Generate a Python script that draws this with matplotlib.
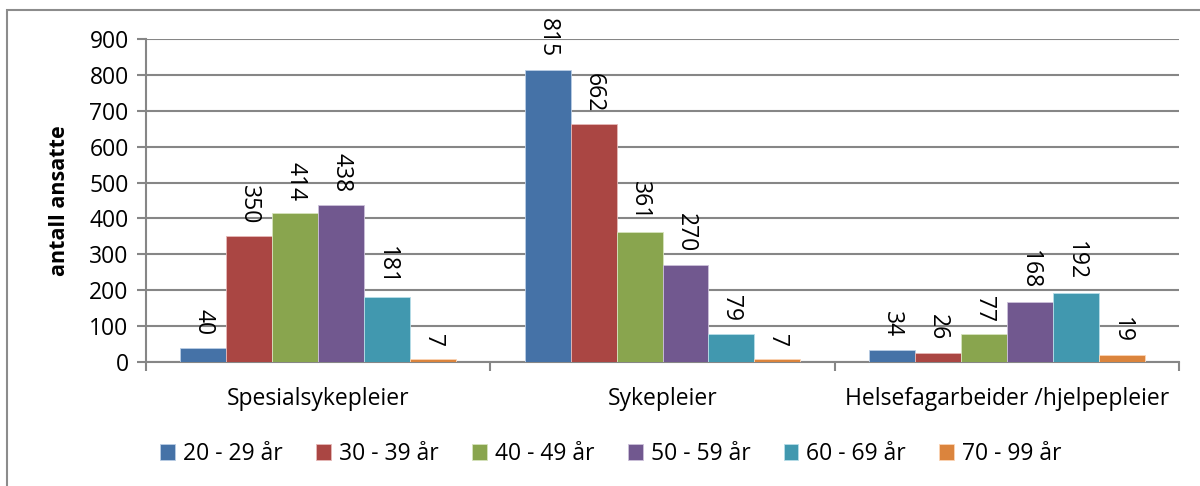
import numpy as np
import matplotlib.pyplot as plt
from matplotlib.patches import Rectangle

plt.rcParams['font.family'] = ['Open Sans', 'DejaVu Sans']

categories = ["Spesialsykepleier", "Sykepleier", "Helsefagarbeider /hjelpepleier"]
age_groups = ["20 - 29 år", "30 - 39 år", "40 - 49 år", "50 - 59 år", "60 - 69 år", "70 - 99 år"]
counts_20_29 = [40, 815, 34]
counts_30_39 = [350, 662, 26]
counts_40_49 = [414, 361, 77]
counts_50_59 = [438, 270, 168]
counts_60_69 = [181, 79, 192]
counts_70_99 = [7, 7, 19]
series = [counts_20_29, counts_30_39, counts_40_49, counts_50_59, counts_60_69, counts_70_99]
colors = ["#4572A7", "#AA4643", "#89A54E", "#71588F", "#4198AF", "#DB843D"]
edges = ["#B9CDE5", "#E6B9B8", "#D7E4BD", "#CCC1DA", "#B7DEE8", "#FCD5B5"]

fig = plt.figure(figsize=(12, 4.86), dpi=100)
ax = fig.add_axes([146 / 1200, 1 - 362 / 486, (1179 - 146) / 1200, (362 - 39) / 486])

# outer chart frame
fig.patches.append(Rectangle((7 / 1200, -0.1), 1.2, 1.1 - 10 / 486,
                             transform=fig.transFigure, fill=False,
                             edgecolor="#8C8C8C", linewidth=1.5))

x = np.arange(len(categories))
w = 1 / 7.5
for i, (vals, c, ec, lab) in enumerate(zip(series, colors, edges, age_groups)):
    pos = x - 3 * w + (i + 0.5) * w
    bars = ax.bar(pos, vals, width=w, color=c, edgecolor=ec, linewidth=0.6,
                  label=lab, zorder=3)
    for b, v in zip(bars, vals):
        ax.annotate(str(v), (b.get_x() + b.get_width() / 2, v),
                    xytext=(0, 9), textcoords="offset points",
                    ha="center", va="bottom", rotation=270, fontsize=16.5)

ax.set_xlim(-0.5, len(categories) - 0.5)
ax.set_ylim(0, 900)
ax.set_yticks(range(0, 901, 100))
ax.yaxis.grid(True, color="#868686", linewidth=1.5, zorder=0)
ax.tick_params(axis="y", labelsize=16.5, length=6.5, width=1.5, color="#868686", pad=6)

ax.set_xticks(np.arange(len(categories) + 1) - 0.5)
ax.set_xticklabels([])
ax.set_xticks(x, minor=True)
ax.set_xticklabels(categories, minor=True, fontsize=16.5)
ax.tick_params(axis="x", which="major", length=6.5, width=1.5, color="#868686")
ax.tick_params(axis="x", which="minor", length=0, pad=18)

for s in ["top", "right"]:
    ax.spines[s].set_visible(False)
for s in ["left", "bottom"]:
    ax.spines[s].set_color("#868686")
    ax.spines[s].set_linewidth(1.5)

ax.set_ylabel("antall ansatte", fontsize=15.5, fontweight="bold", labelpad=14)

ax.legend(loc="center", bbox_to_anchor=(0.5 * (1 - 146 / 1200) / ((1179 - 146) / 1200) - 0.06, -0.285),
          ncol=6, frameon=False, fontsize=16.5, handlelength=0.65, handleheight=0.65,
          handletextpad=0.35, columnspacing=1.45)

fig.savefig("out.png", dpi=100)
